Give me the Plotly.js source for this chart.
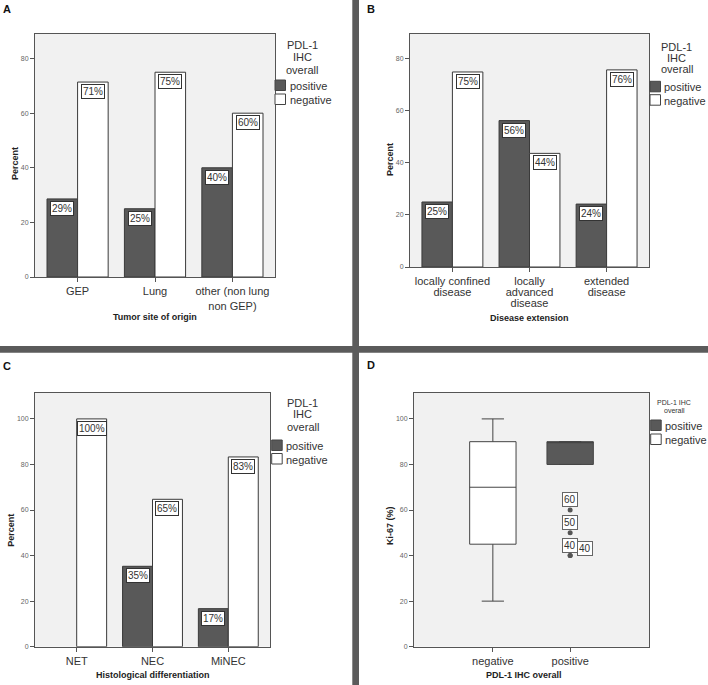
<!DOCTYPE html>
<html>
<head>
<meta charset="utf-8">
<script src="https://cdn.plot.ly/plotly-3.0.1.min.js"></script>
<style>
  html, body { margin: 0; padding: 0; background: #ffffff; }
  #chart { width: 708px; height: 685px; }
</style>
</head>
<body>
<div id="chart"></div>
<script>
// ---------------- DATA ----------------
const seriesNames = ['positive', 'negative'];
const legendTitleLines = ['PDL-1', 'IHC', 'overall'];

const catsA = ['GEP', 'Lung', 'other (non lung<br>non GEP)'];
const posA = [28.6, 25.0, 40.0];
const negA = [71.4, 75.0, 60.0];

const catsB = ['locally confined<br>disease', 'locally<br>advanced<br>disease', 'extended<br>disease'];
const posB = [25.0, 56.3, 24.2];
const negB = [75.0, 43.7, 75.8];

const catsC = ['NET', 'NEC', 'MiNEC'];
const posC = [0, 35.3, 16.7];
const negC = [100, 64.7, 83.3];

const boxCats = ['negative', 'positive'];
const boxQ1 = [45, 80];
const boxMedian = [70, 90];
const boxQ3 = [90, 90];
const boxLowerFence = [20, 80];
const boxUpperFence = [100, 90];
const outlierCat = 'positive';
const outlierY = [60, 50, 40, 40];

const xTitles = ['Tumor site of origin', 'Disease extension', 'Histological differentiation', 'PDL-1 IHC overall'];
const yTitles = ['Percent', 'Percent', 'Percent', 'Ki-67 (%)'];
const panelLetters = ['A', 'B', 'C', 'D'];

// ---------------- STYLE ----------------
const FONT = 'Liberation Sans, Arial, Helvetica, sans-serif';
const POS_COLOR = '#595959';
const NEG_COLOR = '#ffffff';
const EDGE = '#3a3a3a';
const W = 708, H = 685;
const px = x => x / W;
const py = y => 1 - y / H;

// panel geometry in pixels
const panels = [
  {sfx: '',  x0: 35,  x1: 275, y0: 34,    y1: 277,   yr: [0, 89],    cats: catsA, pos: posA, neg: negA},
  {sfx: '2', x0: 410, x1: 649, y0: 34,    y1: 267,   yr: [0, 89.6],  cats: catsB, pos: posB, neg: negB},
  {sfx: '3', x0: 35,  x1: 270, y0: 392.7, y1: 646.7, yr: [0, 111.5], cats: catsC, pos: posC, neg: negC},
  {sfx: '4', x0: 414, x1: 649, y0: 392.7, y1: 646.7, yr: [0, 111.5], cats: boxCats}
];

const data = [];
const annotations = [];
const shapes = [];

// bar panels
panels.slice(0, 3).forEach(p => {
  const xa = 'x' + p.sfx, ya = 'y' + p.sfx;
  [[p.pos, POS_COLOR, seriesNames[0], -1], [p.neg, NEG_COLOR, seriesNames[1], 1]].forEach(([vals, col, name, side]) => {
    data.push({
      type: 'bar', name: name, x: p.cats, y: vals.map(v => v === 0 ? null : v),
      xaxis: xa, yaxis: ya, showlegend: false,
      marker: {color: col, line: {color: EDGE, width: 1}},
      hoverinfo: 'skip'
    });
    vals.forEach((v, i) => {
      if (v === 0) return;
      annotations.push({
        xref: xa, yref: ya, x: i + side * 0.1975, y: v,
        text: Math.round(v) + '%', showarrow: false,
        xanchor: 'center', yanchor: 'top', yshift: -2,
        bgcolor: '#ffffff', bordercolor: '#333333', borderwidth: 1, borderpad: 1,
        font: {family: FONT, size: 10, color: '#333333'}
      });
    });
  });
});

// box panel
[0, 1].forEach(i => {
  data.push({
    type: 'box', name: boxCats[i], x: [boxCats[i]],
    q1: [boxQ1[i]], median: [boxMedian[i]], q3: [boxQ3[i]],
    lowerfence: [boxLowerFence[i]], upperfence: [boxUpperFence[i]],
    xaxis: 'x4', yaxis: 'y4', showlegend: false,
    width: 0.6, whiskerwidth: 0.48,
    fillcolor: i === 0 ? NEG_COLOR : POS_COLOR,
    line: {color: '#444444', width: 1},
    hoverinfo: 'skip'
  });
});
data.push({
  type: 'scatter', mode: 'markers', x: outlierY.map(() => outlierCat), y: outlierY,
  xaxis: 'x4', yaxis: 'y4', showlegend: false,
  marker: {symbol: 'circle', size: 5, color: '#555555'}, hoverinfo: 'skip'
});
outlierY.forEach((v, i) => {
  const dup = outlierY.slice(0, i).indexOf(v) >= 0;
  annotations.push({
    xref: 'x4', yref: 'y4', x: outlierCat, y: v,
    text: String(v), showarrow: false,
    xanchor: dup ? 'left' : 'center', yanchor: 'bottom',
    xshift: dup ? 7 : 0, yshift: dup ? 0 : 3,
    bgcolor: '#ffffff', bordercolor: '#666666', borderwidth: 1, borderpad: 1,
    font: {family: FONT, size: 10, color: '#333333'}
  });
});

// axes
const layout = {
  width: W, height: H,
  margin: {l: 0, r: 0, t: 0, b: 0},
  paper_bgcolor: '#ffffff',
  plot_bgcolor: '#f1f1f1',
  barmode: 'group', bargap: 0.21, bargroupgap: 0,
  boxmode: 'overlay',
  showlegend: false,
  font: {family: FONT, color: '#333333'}
};
panels.forEach((p, k) => {
  const xr = k === 3 ? [-1.02, 2.02] : [-0.55, 2.55];
  layout['xaxis' + p.sfx] = {
    domain: [px(p.x0), px(p.x1)], anchor: 'y' + p.sfx,
    type: 'category', categoryorder: 'array', categoryarray: p.cats,
    range: xr, fixedrange: true,
    showline: true, mirror: true, linecolor: '#555555', linewidth: 1,
    showgrid: false, zeroline: false,
    ticks: 'outside', ticklen: 4, tickcolor: '#555555',
    tickfont: {family: FONT, size: 11, color: '#333333'}
  };
  layout['yaxis' + p.sfx] = {
    domain: [py(p.y1), py(p.y0)], anchor: 'x' + p.sfx,
    range: p.yr, dtick: 20, tick0: 0, fixedrange: true,
    showline: true, mirror: true, linecolor: '#555555', linewidth: 1,
    showgrid: false, zeroline: false,
    ticks: 'outside', ticklen: 4, tickcolor: '#555555',
    tickfont: {family: FONT, size: 7, color: '#666666'}
  };
});

// axis titles
const xTitlePos = [[155, 316.7], [529.7, 318], [153, 675], [524, 675]];
const yTitlePos = [[15, 164], [390, 160], [10.7, 530], [390, 526]];
xTitles.forEach((t, k) => {
  annotations.push({
    xref: 'paper', yref: 'paper', x: px(xTitlePos[k][0]), y: py(xTitlePos[k][1]),
    text: t, showarrow: false, xanchor: 'center', yanchor: 'middle',
    font: {family: FONT, size: 9, color: '#222222', weight: 'bold'}
  });
  annotations.push({
    xref: 'paper', yref: 'paper', x: px(yTitlePos[k][0]), y: py(yTitlePos[k][1]),
    text: yTitles[k], showarrow: false, textangle: -90, xanchor: 'center', yanchor: 'middle',
    font: {family: FONT, size: 9, color: '#222222', weight: 'bold'}
  });
});

// panel letters
const letterPos = [[6.5, 8.7], [371, 8.7], [6.7, 365.5], [371, 365.3]];
panelLetters.forEach((t, k) => {
  annotations.push({
    xref: 'paper', yref: 'paper', x: px(letterPos[k][0]), y: py(letterPos[k][1]),
    text: t, showarrow: false, xanchor: 'center', yanchor: 'middle',
    font: {family: FONT, size: 11, color: '#111111', weight: 'bold'}
  });
});

// legends
const legends = [
  {cx: 302, titleY: [45, 57, 70], titleSize: 11, sw: 275, tx: 287.5, items: [86, 100]},
  {cx: 676.7, titleY: [46.7, 57.8, 69.3], titleSize: 11, sw: 650, tx: 662, items: [87.3, 100.7]},
  {cx: 302.7, titleY: [402.7, 414.3, 426.7], titleSize: 11, sw: 271.7, tx: 284, items: [446, 459.5]},
  {cx: 674, titleY: [402, 410.7], titleSize: 7, sw: 650.7, tx: 662.5, items: [426, 440]}
];
legends.forEach((lg, k) => {
  const lines = k === 3 ? [legendTitleLines[0] + ' ' + legendTitleLines[1], legendTitleLines[2]] : legendTitleLines;
  lines.forEach((t, j) => {
    annotations.push({
      xref: 'paper', yref: 'paper', x: px(lg.cx), y: py(lg.titleY[j]),
      text: t, showarrow: false, xanchor: 'center', yanchor: 'middle',
      font: {family: FONT, size: lg.titleSize, color: '#333333'}
    });
  });
  seriesNames.forEach((n, j) => {
    const cy = lg.items[j];
    shapes.push({
      type: 'rect', xref: 'paper', yref: 'paper',
      x0: px(lg.sw), x1: px(lg.sw + 10.5), y0: py(cy - 6), y1: py(cy + 4.5),
      fillcolor: j === 0 ? POS_COLOR : NEG_COLOR, line: {color: '#444444', width: 1}
    });
    annotations.push({
      xref: 'paper', yref: 'paper', x: px(lg.tx), y: py(cy),
      text: n, showarrow: false, xanchor: 'left', yanchor: 'middle',
      font: {family: FONT, size: 11, color: '#333333'}
    });
  });
});

// panel separators
shapes.push({type: 'rect', xref: 'paper', yref: 'paper', x0: px(352.3), x1: px(359), y0: 0, y1: 1,
  fillcolor: '#5b5b5b', line: {width: 0}, layer: 'above'});
shapes.push({type: 'rect', xref: 'paper', yref: 'paper', x0: 0, x1: 1, y0: py(352.7), y1: py(346),
  fillcolor: '#5b5b5b', line: {width: 0}, layer: 'above'});

layout.annotations = annotations;
layout.shapes = shapes;

Plotly.newPlot('chart', data, layout, {displayModeBar: false, staticPlot: true}).then(() => {
  // tighter line spacing for the multi-line category labels of panel B (as in the reference)
  document.querySelectorAll('.x2tick text tspan.line').forEach(t => {
    const dy = t.getAttribute('dy');
    if (dy && parseFloat(dy) > 0) t.setAttribute('dy', (parseFloat(dy) / 1.3).toFixed(3) + 'em');
  });
});
</script>
</body>
</html>
